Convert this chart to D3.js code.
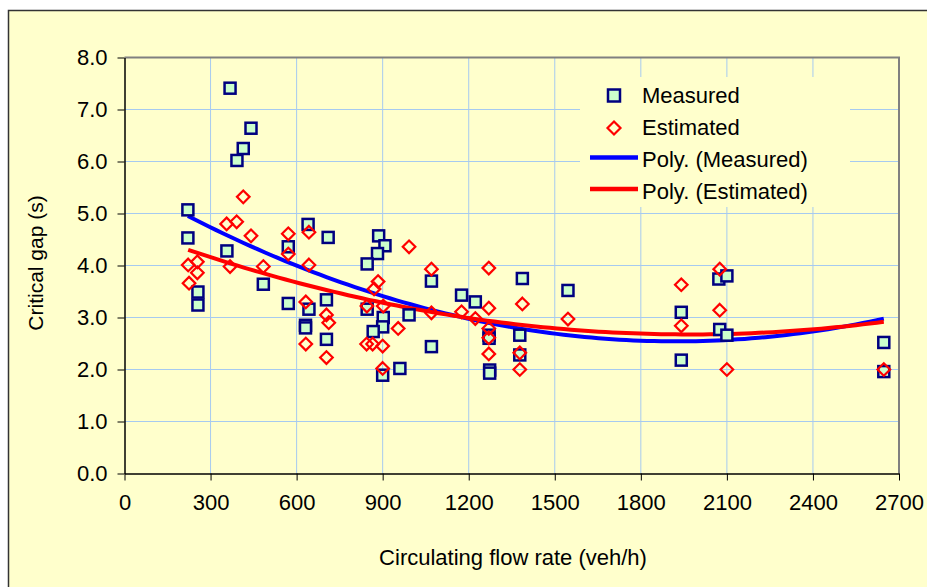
<!DOCTYPE html>
<html>
<head>
<meta charset="utf-8">
<script src="https://cdn.jsdelivr.net/npm/d3@7"></script>
<style>
    body { margin: 0; background: #ffffff; }
    svg text { font-family: "Liberation Sans", Arial, sans-serif; fill: #000; }
</style>
</head>
<body>
<div id="chart"></div>
<script>
// measured critical gaps (square markers)
const measuredFlow = [221, 221, 256, 256, 368, 441, 414, 392, 357, 640, 710, 571, 886, 908, 882, 846,
    484, 571, 643, 704, 631, 631, 704, 846, 902, 900, 867, 900, 960, 1070, 992, 1070,
    1175, 1223, 1271, 1271, 1273, 1273, 1387, 1378, 1378, 1546, 1941, 1941, 2072, 2100, 2075, 2100, 2647, 2647];
const measuredGap = [5.07, 4.53, 3.49, 3.24, 7.41, 6.64, 6.25, 6.02, 4.28, 4.79, 4.54, 4.36, 4.57, 4.38, 4.23, 4.03,
    3.64, 3.27, 3.16, 3.34, 2.85, 2.80, 2.58, 3.16, 3.00, 2.82, 2.73, 1.89, 2.02, 3.70, 3.05, 2.44,
    3.43, 3.30, 2.66, 2.60, 1.99, 1.93, 3.75, 2.66, 2.28, 3.52, 3.10, 2.18, 3.74, 3.80, 2.77, 2.66, 2.52, 1.96];

// estimated critical gaps (diamond markers)
const estimatedFlow = [414, 356, 391, 441, 571, 643, 571, 643, 484, 368, 222, 254, 254, 225, 632, 632,
    704, 712, 704, 884, 870, 845, 902, 844, 865, 900, 900, 954, 992, 1070, 1070, 1175,
    1223, 1270, 1270, 1270, 1270, 1270, 1387, 1378, 1378, 1546, 1941, 1941, 2075, 2075, 2100, 2647];
const estimatedGap = [5.32, 4.80, 4.84, 4.57, 4.61, 4.64, 4.22, 4.01, 3.98, 3.98, 4.01, 4.07, 3.86, 3.66, 3.30, 2.49,
    3.05, 2.90, 2.23, 3.69, 3.55, 3.22, 3.22, 2.49, 2.49, 2.45, 2.02, 2.79, 4.36, 3.93, 3.09, 3.11,
    2.98, 3.95, 3.18, 2.79, 2.61, 2.30, 3.26, 2.32, 2.00, 2.97, 3.63, 2.84, 3.93, 3.14, 2.00, 2.00];

const xTicks = [0, 300, 600, 900, 1200, 1500, 1800, 2100, 2400, 2700];
const yTicks = [0, 1, 2, 3, 4, 5, 6, 7, 8];
const legendLabels = ["Measured", "Estimated", "Poly. (Measured)", "Poly. (Estimated)"];

// least squares fit of a 2nd order polynomial, like the spreadsheet trendline
function polyFit2(xs, ys){
    const s = [0, 0, 0, 0, 0];
    const t = [0, 0, 0];
    xs.forEach((x, i)=>{
        for (let k = 0; k < 5; k++) s[k] += Math.pow(x, k);
        for (let k = 0; k < 3; k++) t[k] += ys[i] * Math.pow(x, k);
    });
    const m = [
        [s[0], s[1], s[2], t[0]],
        [s[1], s[2], s[3], t[1]],
        [s[2], s[3], s[4], t[2]]
    ];
    for (let c = 0; c < 3; c++){
        for (let r = c + 1; r < 3; r++){
            const f = m[r][c] / m[c][c];
            for (let k = c; k < 4; k++) m[r][k] -= f * m[c][k];
        }
    }
    const coef = [0, 0, 0];
    for (let r = 2; r >= 0; r--){
        let v = m[r][3];
        for (let k = r + 1; k < 3; k++) v -= m[r][k] * coef[k];
        coef[r] = v / m[r][r];
    }
    return x => coef[0] + coef[1] * x + coef[2] * x * x;
}

class ScatterD3{
    margin = {top: 57.5, right: 28, bottom: 113.5, left: 124.5};
    size = {width: 927, height: 587};
    fontSize = 22;
    bg = "#ffffcc";
    gridColor = "#a6caf0";

    constructor(el){
        this.el = el;
    }

    create(){
        this.width = this.size.width - this.margin.left - this.margin.right;
        this.height = this.size.height - this.margin.top - this.margin.bottom;
        this.svg = d3.select(this.el).append("svg")
            .attr("width", this.size.width)
            .attr("height", this.size.height);
        // chart area with its dark frame, running off the right and bottom edge
        this.svg.append("rect")
            .attr("x", 8.5).attr("y", 10.5)
            .attr("width", 940).attr("height", 600)
            .attr("fill", this.bg)
            .attr("stroke", "#333333")
            .attr("stroke-width", 1.5);
        this.g = this.svg.append("g")
            .attr("transform", "translate(" + this.margin.left + "," + this.margin.top + ")");

        this.x = d3.scaleLinear().domain([0, 2700]).range([0, this.width]);
        this.y = d3.scaleLinear().domain([0, 8]).range([this.height, 0]);
    }

    renderAxes(){
        const g = this.g;
        g.append("g")
            .selectAll("line.vgrid")
            .data(xTicks.slice(1, -1))
            .join("line")
            .attr("x1", d=>this.x(d)).attr("x2", d=>this.x(d))
            .attr("y1", 0).attr("y2", this.height)
            .attr("stroke", this.gridColor).attr("stroke-width", 1);
        g.append("g")
            .selectAll("line.hgrid")
            .data(yTicks.slice(1, -1))
            .join("line")
            .attr("x1", 0).attr("x2", this.width)
            .attr("y1", d=>this.y(d)).attr("y2", d=>this.y(d))
            .attr("stroke", this.gridColor).attr("stroke-width", 1);

        // top and right edge of the plot area
        g.append("path")
            .attr("d", "M0,0H" + this.width + "V" + this.height)
            .attr("fill", "none")
            .attr("stroke", "#808080")
            .attr("stroke-width", 2);

        const xAxis = g.append("g")
            .attr("transform", "translate(0," + this.height + ")")
            .call(d3.axisBottom(this.x).tickValues(xTicks).tickSize(7).tickSizeOuter(0).tickPadding(14)
                .tickFormat(d3.format("d")));
        const yAxis = g.append("g")
            .call(d3.axisLeft(this.y).tickValues(yTicks).tickSize(7).tickSizeOuter(0).tickPadding(10)
                .tickFormat(d3.format(".1f")));
        [xAxis, yAxis].forEach(ax=>{
            ax.select(".domain").attr("stroke", "#000").attr("stroke-width", 1.5);
            ax.selectAll(".tick line").attr("stroke", "#000");
            ax.selectAll(".tick text").attr("font-size", this.fontSize)
                .attr("font-family", "Liberation Sans, Arial, sans-serif");
        });

        this.svg.append("text")
            .attr("x", 513).attr("y", 565)
            .attr("text-anchor", "middle")
            .attr("font-size", this.fontSize)
            .text("Circulating flow rate (veh/h)");
        this.svg.append("text")
            .attr("transform", "translate(42.5,263) rotate(-90)")
            .attr("text-anchor", "middle")
            .attr("font-size", 21)
            .text("Critical gap (s)");
    }

    square(sel, size){
        sel.attr("width", size).attr("height", size)
            .attr("fill", "#ccffcc")
            .attr("stroke", "#000080")
            .attr("stroke-width", 2.5);
    }

    diamond(r){
        return "M0," + (-r) + "L" + r + ",0L0," + r + "L" + (-r) + ",0Z";
    }

    renderSeries(){
        const g = this.g;
        const measured = measuredFlow.map((f, i)=>({flow: f, gap: measuredGap[i]}));
        const estimated = estimatedFlow.map((f, i)=>({flow: f, gap: estimatedGap[i]}));

        const trends = [
            {fit: polyFit2(measuredFlow, measuredGap), xs: measuredFlow, color: "#0000ff"},
            {fit: polyFit2(estimatedFlow, estimatedGap), xs: estimatedFlow, color: "#ff0000"}
        ];
        const line = d3.line().x(d=>this.x(d[0])).y(d=>this.y(d[1]));
        trends.forEach(t=>{
            const [lo, hi] = d3.extent(t.xs);
            const pts = d3.range(0, 101).map(k=>{
                const xv = lo + (hi - lo) * k / 100;
                return [xv, t.fit(xv)];
            });
            g.append("path")
                .attr("d", line(pts))
                .attr("fill", "none")
                .attr("stroke", t.color)
                .attr("stroke-width", 4);
        });

        const sq = 11;
        g.append("g").selectAll("rect")
            .data(measured)
            .join("rect")
            .attr("x", d=>this.x(d.flow) - sq / 2)
            .attr("y", d=>this.y(d.gap) - sq / 2)
            .call(sel=>this.square(sel, sq));

        g.append("g").selectAll("path")
            .data(estimated)
            .join("path")
            .attr("transform", d=>"translate(" + this.x(d.flow) + "," + this.y(d.gap) + ")")
            .attr("d", this.diamond(6.3))
            .attr("fill", "none")
            .attr("stroke", "#ff0000")
            .attr("stroke-width", 2.2);
    }

    renderLegend(){
        const lg = this.svg.append("g");
        lg.append("rect")
            .attr("x", 580).attr("y", 77)
            .attr("width", 270).attr("height", 130)
            .attr("fill", this.bg);
        const rowY = [95.5, 128, 157.5, 189];
        const baseY = [102.5, 135, 167, 198.5];
        lg.append("rect")
            .attr("x", 614 - 6).attr("y", rowY[0] - 6)
            .call(sel=>this.square(sel, 12));
        lg.append("path")
            .attr("transform", "translate(614," + rowY[1] + ")")
            .attr("d", this.diamond(6.5))
            .attr("fill", "none")
            .attr("stroke", "#ff0000")
            .attr("stroke-width", 2.2);
        ["#0000ff", "#ff0000"].forEach((c, i)=>{
            lg.append("line")
                .attr("x1", 590).attr("x2", 638)
                .attr("y1", rowY[2 + i]).attr("y2", rowY[2 + i])
                .attr("stroke", c).attr("stroke-width", 4.5);
        });
        lg.selectAll("text")
            .data(legendLabels)
            .join("text")
            .attr("x", 642)
            .attr("y", (d, i)=>baseY[i])
            .attr("font-size", this.fontSize)
            .text(d=>d);
    }
}

const chart = new ScatterD3(document.getElementById("chart"));
chart.create();
chart.renderAxes();
chart.renderSeries();
chart.renderLegend();
</script>
</body>
</html>
